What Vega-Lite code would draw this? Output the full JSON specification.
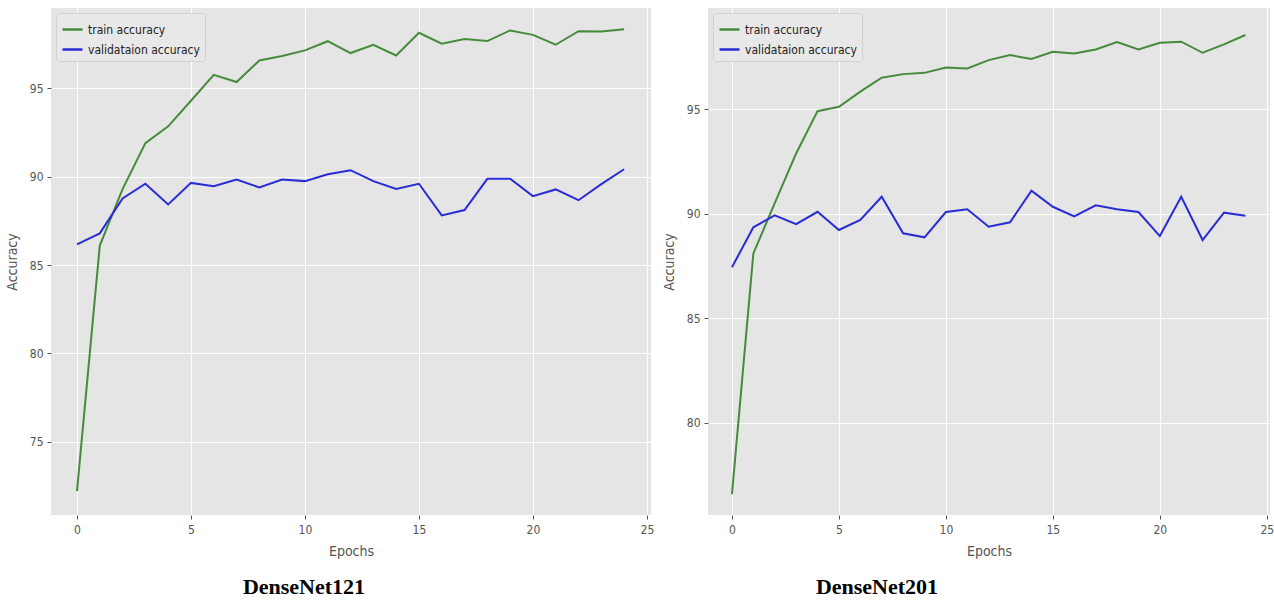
{
  "$schema": "https://vega.github.io/schema/vega-lite/v6.json",
  "padding": {"left": 5, "top": 8, "right": 0, "bottom": 0},
  "background": "white",
  "spacing": 8,
  "config": {
    "view": {"fill": "#E5E5E5", "stroke": null},
    "font": "DejaVu Sans Condensed, Liberation Sans Narrow, DejaVu Sans",
    "axis": {
      "domain": false,
      "grid": true,
      "gridColor": "#FFFFFF",
      "gridWidth": 1,
      "tickColor": "#555555",
      "tickSize": 4,
      "labelColor": "#555555",
      "labelFontSize": 12,
      "labelFont": "DejaVu Sans Condensed, Liberation Sans Narrow, DejaVu Sans",
      "titleColor": "#555555",
      "titleFontSize": 14,
      "titleFontWeight": "normal",
      "titleFont": "DejaVu Sans Condensed, Liberation Sans Narrow, DejaVu Sans"
    },
    "legend": {
      "orient": "top-left",
      "offset": 5,
      "padding": 5,
      "fillColor": "#E8E8E8",
      "strokeColor": "#D0D0D0",
      "cornerRadius": 3,
      "labelFontSize": 12,
      "labelColor": "#222222",
      "labelFont": "DejaVu Sans Condensed, Liberation Sans Narrow, DejaVu Sans",
      "symbolType": "stroke",
      "symbolSize": 400,
      "symbolStrokeWidth": 2.5,
      "rowPadding": 2,
      "title": null
    }
  },
  "data": {
    "values": [
      {"model": "DenseNet121", "epoch": 0, "series": "train accuracy", "accuracy": 72.2},
      {"model": "DenseNet121", "epoch": 1, "series": "train accuracy", "accuracy": 86.1},
      {"model": "DenseNet121", "epoch": 2, "series": "train accuracy", "accuracy": 89.3},
      {"model": "DenseNet121", "epoch": 3, "series": "train accuracy", "accuracy": 91.9},
      {"model": "DenseNet121", "epoch": 4, "series": "train accuracy", "accuracy": 92.85},
      {"model": "DenseNet121", "epoch": 5, "series": "train accuracy", "accuracy": 94.3},
      {"model": "DenseNet121", "epoch": 6, "series": "train accuracy", "accuracy": 95.77},
      {"model": "DenseNet121", "epoch": 7, "series": "train accuracy", "accuracy": 95.36},
      {"model": "DenseNet121", "epoch": 8, "series": "train accuracy", "accuracy": 96.58},
      {"model": "DenseNet121", "epoch": 9, "series": "train accuracy", "accuracy": 96.83},
      {"model": "DenseNet121", "epoch": 10, "series": "train accuracy", "accuracy": 97.15},
      {"model": "DenseNet121", "epoch": 11, "series": "train accuracy", "accuracy": 97.67},
      {"model": "DenseNet121", "epoch": 12, "series": "train accuracy", "accuracy": 97.0},
      {"model": "DenseNet121", "epoch": 13, "series": "train accuracy", "accuracy": 97.47},
      {"model": "DenseNet121", "epoch": 14, "series": "train accuracy", "accuracy": 96.86},
      {"model": "DenseNet121", "epoch": 15, "series": "train accuracy", "accuracy": 98.15},
      {"model": "DenseNet121", "epoch": 16, "series": "train accuracy", "accuracy": 97.53},
      {"model": "DenseNet121", "epoch": 17, "series": "train accuracy", "accuracy": 97.79},
      {"model": "DenseNet121", "epoch": 18, "series": "train accuracy", "accuracy": 97.68},
      {"model": "DenseNet121", "epoch": 19, "series": "train accuracy", "accuracy": 98.28},
      {"model": "DenseNet121", "epoch": 20, "series": "train accuracy", "accuracy": 98.03},
      {"model": "DenseNet121", "epoch": 21, "series": "train accuracy", "accuracy": 97.47},
      {"model": "DenseNet121", "epoch": 22, "series": "train accuracy", "accuracy": 98.24},
      {"model": "DenseNet121", "epoch": 23, "series": "train accuracy", "accuracy": 98.22},
      {"model": "DenseNet121", "epoch": 24, "series": "train accuracy", "accuracy": 98.35},
      {"model": "DenseNet121", "epoch": 0, "series": "validataion accuracy", "accuracy": 86.17},
      {"model": "DenseNet121", "epoch": 1, "series": "validataion accuracy", "accuracy": 86.79},
      {"model": "DenseNet121", "epoch": 2, "series": "validataion accuracy", "accuracy": 88.77},
      {"model": "DenseNet121", "epoch": 3, "series": "validataion accuracy", "accuracy": 89.6},
      {"model": "DenseNet121", "epoch": 4, "series": "validataion accuracy", "accuracy": 88.43},
      {"model": "DenseNet121", "epoch": 5, "series": "validataion accuracy", "accuracy": 89.65},
      {"model": "DenseNet121", "epoch": 6, "series": "validataion accuracy", "accuracy": 89.46},
      {"model": "DenseNet121", "epoch": 7, "series": "validataion accuracy", "accuracy": 89.84},
      {"model": "DenseNet121", "epoch": 8, "series": "validataion accuracy", "accuracy": 89.39},
      {"model": "DenseNet121", "epoch": 9, "series": "validataion accuracy", "accuracy": 89.84},
      {"model": "DenseNet121", "epoch": 10, "series": "validataion accuracy", "accuracy": 89.75},
      {"model": "DenseNet121", "epoch": 11, "series": "validataion accuracy", "accuracy": 90.14},
      {"model": "DenseNet121", "epoch": 12, "series": "validataion accuracy", "accuracy": 90.37},
      {"model": "DenseNet121", "epoch": 13, "series": "validataion accuracy", "accuracy": 89.75},
      {"model": "DenseNet121", "epoch": 14, "series": "validataion accuracy", "accuracy": 89.31},
      {"model": "DenseNet121", "epoch": 15, "series": "validataion accuracy", "accuracy": 89.6},
      {"model": "DenseNet121", "epoch": 16, "series": "validataion accuracy", "accuracy": 87.81},
      {"model": "DenseNet121", "epoch": 17, "series": "validataion accuracy", "accuracy": 88.11},
      {"model": "DenseNet121", "epoch": 18, "series": "validataion accuracy", "accuracy": 89.88},
      {"model": "DenseNet121", "epoch": 19, "series": "validataion accuracy", "accuracy": 89.88},
      {"model": "DenseNet121", "epoch": 20, "series": "validataion accuracy", "accuracy": 88.9},
      {"model": "DenseNet121", "epoch": 21, "series": "validataion accuracy", "accuracy": 89.28},
      {"model": "DenseNet121", "epoch": 22, "series": "validataion accuracy", "accuracy": 88.67},
      {"model": "DenseNet121", "epoch": 23, "series": "validataion accuracy", "accuracy": 89.58},
      {"model": "DenseNet121", "epoch": 24, "series": "validataion accuracy", "accuracy": 90.42},
      {"model": "DenseNet201", "epoch": 0, "series": "train accuracy", "accuracy": 76.59},
      {"model": "DenseNet201", "epoch": 1, "series": "train accuracy", "accuracy": 88.1},
      {"model": "DenseNet201", "epoch": 2, "series": "train accuracy", "accuracy": 90.5},
      {"model": "DenseNet201", "epoch": 3, "series": "train accuracy", "accuracy": 92.88},
      {"model": "DenseNet201", "epoch": 4, "series": "train accuracy", "accuracy": 94.9},
      {"model": "DenseNet201", "epoch": 5, "series": "train accuracy", "accuracy": 95.11},
      {"model": "DenseNet201", "epoch": 6, "series": "train accuracy", "accuracy": 95.83},
      {"model": "DenseNet201", "epoch": 7, "series": "train accuracy", "accuracy": 96.5},
      {"model": "DenseNet201", "epoch": 8, "series": "train accuracy", "accuracy": 96.67},
      {"model": "DenseNet201", "epoch": 9, "series": "train accuracy", "accuracy": 96.73},
      {"model": "DenseNet201", "epoch": 10, "series": "train accuracy", "accuracy": 96.99},
      {"model": "DenseNet201", "epoch": 11, "series": "train accuracy", "accuracy": 96.94},
      {"model": "DenseNet201", "epoch": 12, "series": "train accuracy", "accuracy": 97.34},
      {"model": "DenseNet201", "epoch": 13, "series": "train accuracy", "accuracy": 97.58},
      {"model": "DenseNet201", "epoch": 14, "series": "train accuracy", "accuracy": 97.39},
      {"model": "DenseNet201", "epoch": 15, "series": "train accuracy", "accuracy": 97.74},
      {"model": "DenseNet201", "epoch": 16, "series": "train accuracy", "accuracy": 97.66},
      {"model": "DenseNet201", "epoch": 17, "series": "train accuracy", "accuracy": 97.85},
      {"model": "DenseNet201", "epoch": 18, "series": "train accuracy", "accuracy": 98.2},
      {"model": "DenseNet201", "epoch": 19, "series": "train accuracy", "accuracy": 97.85},
      {"model": "DenseNet201", "epoch": 20, "series": "train accuracy", "accuracy": 98.17},
      {"model": "DenseNet201", "epoch": 21, "series": "train accuracy", "accuracy": 98.22},
      {"model": "DenseNet201", "epoch": 22, "series": "train accuracy", "accuracy": 97.69},
      {"model": "DenseNet201", "epoch": 23, "series": "train accuracy", "accuracy": 98.09},
      {"model": "DenseNet201", "epoch": 24, "series": "train accuracy", "accuracy": 98.54},
      {"model": "DenseNet201", "epoch": 0, "series": "validataion accuracy", "accuracy": 87.44},
      {"model": "DenseNet201", "epoch": 1, "series": "validataion accuracy", "accuracy": 89.35},
      {"model": "DenseNet201", "epoch": 2, "series": "validataion accuracy", "accuracy": 89.92},
      {"model": "DenseNet201", "epoch": 3, "series": "validataion accuracy", "accuracy": 89.5},
      {"model": "DenseNet201", "epoch": 4, "series": "validataion accuracy", "accuracy": 90.09},
      {"model": "DenseNet201", "epoch": 5, "series": "validataion accuracy", "accuracy": 89.22},
      {"model": "DenseNet201", "epoch": 6, "series": "validataion accuracy", "accuracy": 89.7},
      {"model": "DenseNet201", "epoch": 7, "series": "validataion accuracy", "accuracy": 90.81},
      {"model": "DenseNet201", "epoch": 8, "series": "validataion accuracy", "accuracy": 89.06},
      {"model": "DenseNet201", "epoch": 9, "series": "validataion accuracy", "accuracy": 88.87},
      {"model": "DenseNet201", "epoch": 10, "series": "validataion accuracy", "accuracy": 90.08},
      {"model": "DenseNet201", "epoch": 11, "series": "validataion accuracy", "accuracy": 90.21},
      {"model": "DenseNet201", "epoch": 12, "series": "validataion accuracy", "accuracy": 89.38},
      {"model": "DenseNet201", "epoch": 13, "series": "validataion accuracy", "accuracy": 89.59},
      {"model": "DenseNet201", "epoch": 14, "series": "validataion accuracy", "accuracy": 91.1},
      {"model": "DenseNet201", "epoch": 15, "series": "validataion accuracy", "accuracy": 90.33},
      {"model": "DenseNet201", "epoch": 16, "series": "validataion accuracy", "accuracy": 89.87},
      {"model": "DenseNet201", "epoch": 17, "series": "validataion accuracy", "accuracy": 90.4},
      {"model": "DenseNet201", "epoch": 18, "series": "validataion accuracy", "accuracy": 90.21},
      {"model": "DenseNet201", "epoch": 19, "series": "validataion accuracy", "accuracy": 90.08},
      {"model": "DenseNet201", "epoch": 20, "series": "validataion accuracy", "accuracy": 88.93},
      {"model": "DenseNet201", "epoch": 21, "series": "validataion accuracy", "accuracy": 90.81},
      {"model": "DenseNet201", "epoch": 22, "series": "validataion accuracy", "accuracy": 88.74},
      {"model": "DenseNet201", "epoch": 23, "series": "validataion accuracy", "accuracy": 90.05},
      {"model": "DenseNet201", "epoch": 24, "series": "validataion accuracy", "accuracy": 89.9}
    ]
  },
  "resolve": {"scale": {"color": "independent"}},
  "hconcat": [
    {
      "width": 600,
      "height": 507,
      "title": {"text": "DenseNet121", "orient": "bottom", "anchor": "middle", "dx": -47, "offset": 19, "font": "Liberation Serif", "fontSize": 22, "fontWeight": "bold", "color": "#000000"},
      "transform": [{"filter": "datum.model === 'DenseNet121'"}],
      "mark": {"type": "line", "strokeWidth": 2},
      "encoding": {
        "x": {"field": "epoch", "type": "quantitative", "title": "Epochs",
              "scale": {"domain": [-1.14, 25.18], "nice": false, "zero": false},
              "axis": {"values": [0, 5, 10, 15, 20, 25], "labelPadding": 5, "titlePadding": 9}},
        "y": {"field": "accuracy", "type": "quantitative", "title": "Accuracy",
              "scale": {"domain": [70.85, 99.55], "nice": false, "zero": false},
              "axis": {"values": [75, 80, 85, 90, 95], "labelPadding": 4, "titlePadding": 10}},
        "color": {"field": "series", "type": "nominal",
                  "scale": {"domain": ["train accuracy", "validataion accuracy"], "range": ["#468a3c", "#2b2bd6"]},
                  "legend": {"title": null}}
      }
    },
    {
      "width": 562,
      "height": 507,
      "title": {"text": "DenseNet201", "orient": "bottom", "anchor": "middle", "dx": -112, "offset": 19, "font": "Liberation Serif", "fontSize": 22, "fontWeight": "bold", "color": "#000000"},
      "transform": [{"filter": "datum.model === 'DenseNet201'"}],
      "mark": {"type": "line", "strokeWidth": 2},
      "encoding": {
        "x": {"field": "epoch", "type": "quantitative", "title": "Epochs",
              "scale": {"domain": [-1.12, 25.15], "nice": false, "zero": false},
              "axis": {"values": [0, 5, 10, 15, 20, 25], "labelPadding": 5, "titlePadding": 9}},
        "y": {"field": "accuracy", "type": "quantitative", "title": "Accuracy",
              "scale": {"domain": [75.6, 99.83], "nice": false, "zero": false},
              "axis": {"values": [80, 85, 90, 95], "labelPadding": 4, "titlePadding": 10}},
        "color": {"field": "series", "type": "nominal",
                  "scale": {"domain": ["train accuracy", "validataion accuracy"], "range": ["#468a3c", "#2b2bd6"]},
                  "legend": {"title": null}}
      }
    }
  ]
}
